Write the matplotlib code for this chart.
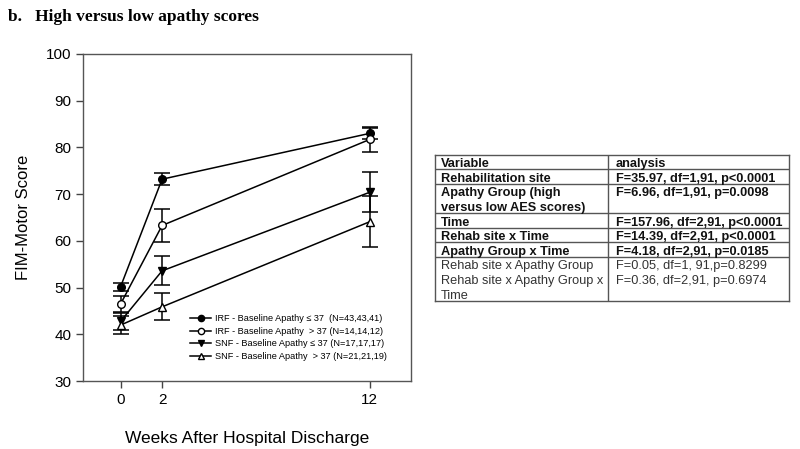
import numpy as np
import matplotlib as mpl
import matplotlib.pyplot as plt
from matplotlib.lines import Line2D

# --- data
weeks = [0, 2, 12]
groups = [
    "IRF - Baseline Apathy \u2264 37  (N=43,43,41)",
    "IRF - Baseline Apathy  > 37 (N=14,14,12)",
    "SNF - Baseline Apathy \u2264 37 (N=17,17,17)",
    "SNF - Baseline Apathy  > 37 (N=21,21,19)",
]
irf_low = [50.2, 73.2, 83.0]
irf_low_err = [0.9, 1.3, 1.2]
irf_high = [46.5, 63.3, 81.7]
irf_high_err = [1.7, 3.5, 2.6]
snf_low = [42.8, 53.6, 70.4]
snf_low_err = [1.8, 3.1, 4.3]
snf_high = [42.0, 45.9, 64.1]
snf_high_err = [2.0, 2.9, 5.4]

yticks = [30, 40, 50, 60, 70, 80, 90, 100]

# table contents
tab_var = ["Variable", "Rehabilitation site", "Apathy Group (high\nversus low AES scores)",
           "Time", "Rehab site x Time", "Apathy Group x Time",
           "Rehab site x Apathy Group", "Rehab site x Apathy Group x\nTime"]
tab_res = ["analysis", "F=35.97, df=1,91, p<0.0001", "F=6.96, df=1,91, p=0.0098",
           "F=157.96, df=2,91, p<0.0001", "F=14.39, df=2,91, p<0.0001",
           "F=4.18, df=2,91, p=0.0185", "F=0.05, df=1, 91,p=0.8299",
           "F=0.36, df=2,91, p=0.6974"]
tab_bold = [True, True, True, True, True, True, False, False]
tab_sep = [True, True, True, True, True, True, False, False]

mpl.rcParams.update({
    "font.family": ["Liberation Sans", "DejaVu Sans"],
    "xtick.direction": "out",
    "ytick.direction": "out",
})

fig = plt.figure(figsize=(8.0, 4.49), dpi=100)
ax = fig.add_axes([0.104, 0.151, 0.41, 0.729])

series = [
    (irf_low, irf_low_err, dict(marker="o", mfc="black", mec="black")),
    (irf_high, irf_high_err, dict(marker="o", mfc="white", mec="black")),
    (snf_low, snf_low_err, dict(marker="v", mfc="black", mec="black")),
    (snf_high, snf_high_err, dict(marker="^", mfc="white", mec="black")),
]
handles = []
for (vals, err, mk), lab in zip(series, groups):
    ax.errorbar(weeks, vals, yerr=err, color="black", lw=1.1, ms=5.5,
                capsize=6, capthick=1.1, elinewidth=1.1, zorder=3, **mk)
    handles.append(Line2D([], [], color="black", lw=1.1, ms=4.5, label=lab, **mk))

ax.set_xlim(-1.8, 14)
ax.set_ylim(30, 100)
ax.set_xticks(weeks)
ax.set_yticks(yticks)
ax.tick_params(labelsize=11, length=5, width=1, color="#444444", top=False, right=False)
for s in ax.spines.values():
    s.set_color("#555555")
    s.set_linewidth(1)
ax.set_xlabel("Weeks After Hospital Discharge", fontsize=12.5, labelpad=17)
ax.set_ylabel("FIM-Motor Score", fontsize=12, labelpad=11)

ax.legend(handles=handles, loc="upper left", bbox_to_anchor=(0.326, 0.205), frameon=False,
          fontsize=6.6, handlelength=2.3, handletextpad=0.45,
          labelspacing=0.4, borderpad=0, borderaxespad=0)

# panel title
fig.text(0.01, 0.962, "b.   High versus low apathy scores", fontsize=12.5,
         fontweight="bold", family=["Liberation Serif", "DejaVu Serif"], va="center")

# --- table
tx0, tx1 = 435 / 800, 789 / 800
ty0, ty1 = 1 - 300.7 / 449, 1 - 154.7 / 449
tax = fig.add_axes([tx0, ty0, tx1 - tx0, ty1 - ty0])
total = sum(max(v.count("\n"), r.count("\n")) + 1 for v, r in zip(tab_var, tab_res))
tax.set_xlim(0, 1)
tax.set_ylim(total, 0)
tax.set_xticks([])
tax.set_yticks([])
for s in tax.spines.values():
    s.set_color("#555555")
    s.set_linewidth(1)
divx = 0.489
tax.axvline(divx, color="#555555", lw=1)
row = 0
for v, r, b, sep in zip(tab_var, tab_res, tab_bold, tab_sep):
    w = "bold" if b else "normal"
    c = "#111111" if b else "#333333"
    vl = v.split("\n")
    for i, t in enumerate(vl):
        tax.text(0.017, row + i + 0.55, t, fontsize=9.2, fontweight=w, color=c,
                 va="center_baseline")
    tax.text(divx + 0.022, row + 0.55, r, fontsize=9.2, fontweight=w, color=c,
             va="center_baseline")
    row += len(vl)
    if sep and row < total:
        tax.axhline(row, color="#555555", lw=1)

fig.savefig("out.png", dpi=100)
